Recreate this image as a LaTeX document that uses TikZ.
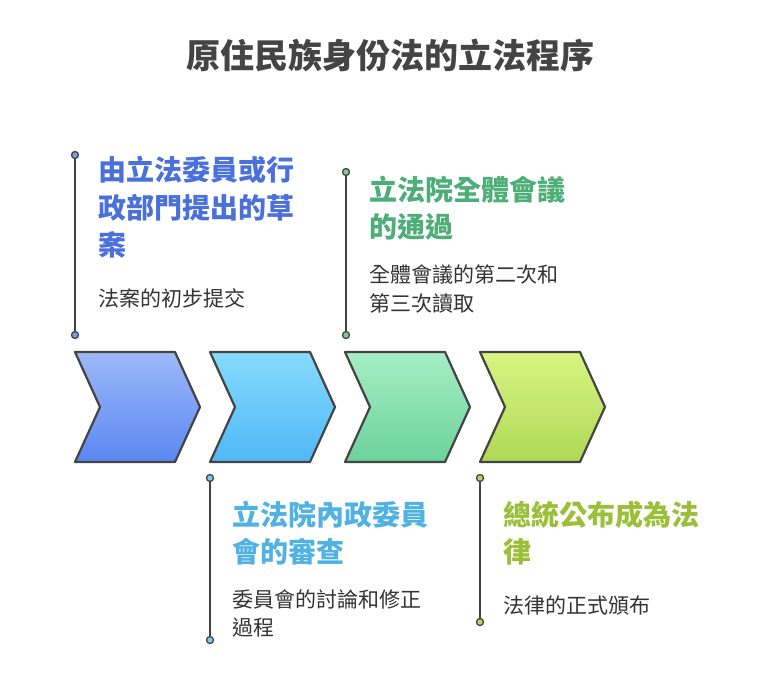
\documentclass[tikz,border=0pt]{standalone}
\usepackage{fontspec}
\setmainfont{Noto Sans CJK TC}
\usetikzlibrary{calc}
\definecolor{dk}{HTML}{444444}
\definecolor{tx}{HTML}{333333}
\definecolor{cA}{HTML}{4A70DC}\definecolor{cB}{HTML}{4FB2E2}
\definecolor{cC}{HTML}{4DAE78}\definecolor{cD}{HTML}{9CBF3A}
\definecolor{gAt}{HTML}{9DB9F9}\definecolor{gAb}{HTML}{5B87F1}
\definecolor{gBt}{HTML}{86DBFC}\definecolor{gBb}{HTML}{4FB8F6}
\definecolor{gCt}{HTML}{A6EEC6}\definecolor{gCb}{HTML}{6BD39A}
\definecolor{gDt}{HTML}{D9F484}\definecolor{gDb}{HTML}{AED955}
\tikzset{
 ttl/.style={anchor=west,font=\fontsize{28}{32}\selectfont\bfseries,inner sep=0},
 dsc/.style={anchor=west,font=\fontsize{21}{24}\selectfont,text=tx,inner sep=0},
 dotm/.style={circle,draw=dk,line width=1.3pt,minimum size=7pt,inner sep=0},
 vline/.style={draw=dk,line width=2pt},
 chev/.style={draw=dk,line width=2.2pt,line join=round}
}
\newcommand{\chevron}[3]{%
 \path[chev,top color=#2,bottom color=#3] (#1,-352)--++(100,0)--++(25,-55)--++(-25,-55)--++(-100,0)--++(25,55)--cycle;}
\begin{document}
\begin{tikzpicture}[x=1pt,y=1pt]
\useasboundingbox (0,0) rectangle (760,-696);
\node[font=\fontsize{34}{38}\selectfont\bfseries,text=dk] (title) at (390,-55) {原住民族身份法的立法程序};
\chevron{75}{gAt}{gAb}
\chevron{210}{gBt}{gBb}
\chevron{345}{gCt}{gCb}
\chevron{480}{gDt}{gDb}
% step 1
\node[dotm,fill=cA!70] (a1) at (75,-155) {};
\node[dotm,fill=cA!70] (a2) at (75,-335) {};
\draw[vline] (a1)--(a2);
\node[ttl,text=cA] (t1a) at (98,-170) {由立法委員或行};
\node[ttl,text=cA] (t1b) at (98,-208) {政部門提出的草};
\node[ttl,text=cA] (t1c) at (98,-245) {案};
\node[dsc] (d1) at (98,-298) {法案的初步提交};
% step 2
\node[dotm,fill=cC!70] (b1) at (346,-172) {};
\node[dotm,fill=cC!70] (b2) at (346,-335) {};
\draw[vline] (b1)--(b2);
\node[ttl,text=cC] (t2a) at (369,-190) {立法院全體會議};
\node[ttl,text=cC] (t2b) at (369,-227) {的通過};
\node[dsc] (d2a) at (369,-275) {全體會議的第二次和};
\node[dsc] (d2b) at (369,-303) {第三次讀取};
% step 3
\node[dotm,fill=cB!70] (c1) at (210,-478) {};
\node[dotm,fill=cB!70] (c2) at (210,-640) {};
\draw[vline] (c1)--(c2);
\node[ttl,text=cB] (t3a) at (232,-515) {立法院內政委員};
\node[ttl,text=cB] (t3b) at (232,-552) {會的審查};
\node[dsc] (d3a) at (232,-600) {委員會的討論和修正};
\node[dsc] (d3b) at (232,-628) {過程};
% step 4
\node[dotm,fill=cD!70] (e1) at (480,-478) {};
\node[dotm,fill=cD!70] (e2) at (480,-622) {};
\draw[vline] (e1)--(e2);
\node[ttl,text=cD] (t4a) at (503,-515) {總統公布成為法};
\node[ttl,text=cD] (t4b) at (503,-552) {律};
\node[dsc] (d4) at (503,-605) {法律的正式頒布};
\end{tikzpicture}
\end{document}
